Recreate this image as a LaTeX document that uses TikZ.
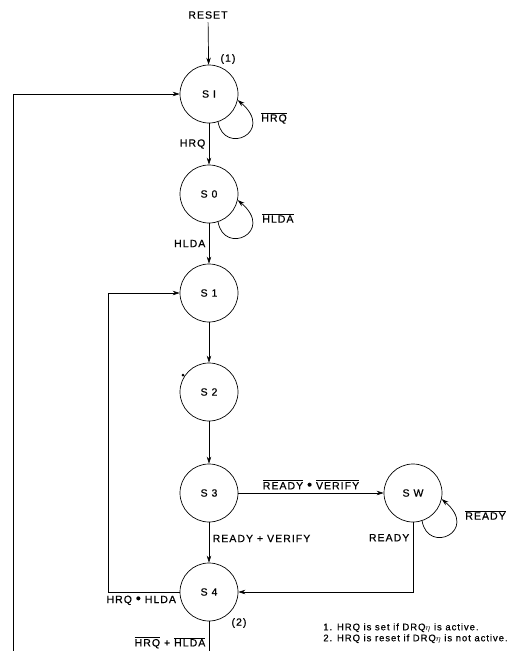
\documentclass[tikz,border=0pt]{standalone}
\usepackage{fontspec}
\setmainfont{Liberation Sans}
\newfontfamily\lblfont[LetterSpace=10, FakeBold=0.6]{Liberation Sans}
\usetikzlibrary{arrows.meta}
\newcommand{\notsig}[1]{$\overline{\mbox{#1}}$}
\newcommand{\andsig}{{\fontsize{14}{12}\selectfont\textbullet}}

\begin{document}
\begin{tikzpicture}[x=1pt, y=-1pt, >={Stealth[length=7pt,width=4.5pt]}, line width=0.7pt,
    font=\lblfont\fontsize{10.5}{12}\selectfont,
    state/.style={draw, circle, minimum size=58pt, inner sep=0pt},
    loopnote/.style={anchor=west, inner sep=0pt}]
    \useasboundingbox (0,0) rectangle (509,651);

    \node[state] (SI) at (209,94) {S I};
    \node[state, below of=SI, node distance=100pt] (S0) {S 0};
    \node[state, below of=S0, node distance=99pt] (S1) {S 1};
    \node[state, below of=S1, node distance=99pt] (S2) {S 2};
    \node[state, below of=S2, node distance=101pt] (S3) {S 3};
    \node[state, below of=S3, node distance=99pt] (S4) {S 4};
    \node[state, right of=S3, node distance=204pt] (SW) {S W};

    \node (reset) at (208,15) {RESET};
    \node (mark1) at (228,59) {(1)};
    \node (mark2) at (239,623) {(2)};
    \coordinate (leftend) at (13,651);

    \draw[->] (reset) -- (SI);
    \draw[->] (SI) -- node[left] {HRQ} (S0);
    \draw[->] (S0) -- node[left] {HLDA} (S1);
    \draw[->] (S1) -- (S2);
    \draw[->] (S2) -- (S3);
    \draw[->] (S3) -- node[above] {\notsig{READY} \andsig{} \notsig{VERIFY}} (SW);
    \draw[->] (S3) -- node[pos=0.4, right] {READY + VERIFY} (S4);
    \draw[->] (SW) |- node[pos=0.11, left] {READY} (S4);
    \draw[->] (S4.west) -- ++(-71,0) node[pos=0, below left] {HRQ \andsig{} HLDA} |- (S1.west);
    \draw (S4) -- node[pos=0.72, left] {\notsig{HRQ} + \notsig{HLDA}} (S4 |- leftend);
    \draw[->] (leftend) |- (SI.west);

    % self loops
    \draw[->] (SI.-72) .. controls +(6,34) and +(38,32) .. (SI.-12);
    \draw[->] (S0.-72) .. controls +(6,34) and +(38,32) .. (S0.-12);
    \draw[->] (SW.-72) .. controls +(6,34) and +(38,32) .. (SW.-12);
    \node[loopnote] (nhrq) at ([shift={(52,24)}]SI.center) {\notsig{HRQ}};
    \node[loopnote] (nhlda) at ([shift={(53,24)}]S0.center) {\notsig{HLDA}};
    \node[loopnote] (nready) at ([shift={(52,22)}]SW.center) {\notsig{READY}};

    \fill (183,375) circle (1.5);

    \node[anchor=north west, align=left, inner sep=0pt, font=\lblfont\fontsize{9.5}{11}\selectfont] (notes) at (323,623)
        {1. HRQ is set if DRQ$\eta$ is active.\\2. HRQ is reset if DRQ$\eta$ is not active.};
\end{tikzpicture}
\end{document}
